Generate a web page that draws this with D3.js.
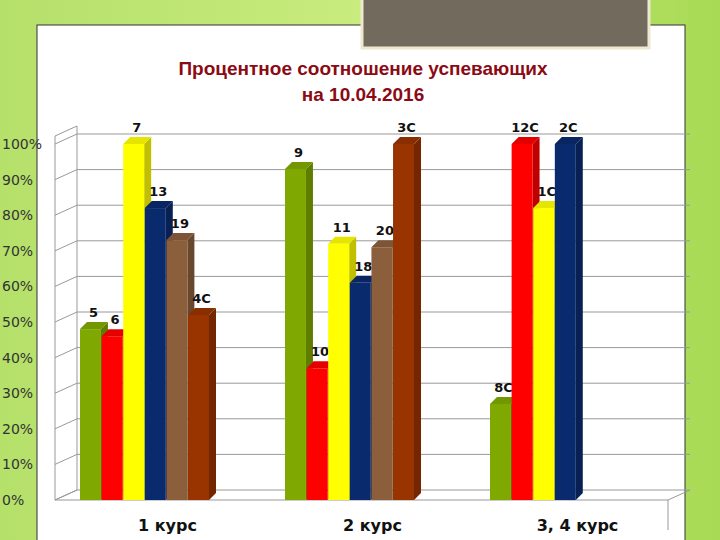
<!DOCTYPE html><html><head><meta charset="utf-8"><script src="https://cdn.jsdelivr.net/npm/d3@7"></script>
<style>body{margin:0}svg{display:block}</style></head><body><svg id="c" width="720" height="540"></svg><script>
const categories=["1 курс","2 курс","3, 4 курс"];
const groupLabels=[["5","6","7","13","19","4C"],["9","10","11","18","20","3C"],["8C","12C","1C","2C"]];
const groupValues=[[48,46,100,82,73,52],[93,37,72,61,71,100],[27,100,82,100]];
const groupColors=[["#7fa800","#ff0000","#ffff00","#0a2a6e","#8b5e3c","#993300"],["#7fa800","#ff0000","#ffff00","#0a2a6e","#8b5e3c","#993300"],["#7fa800","#ff0000","#ffff00","#0a2a6e"]];
const yTicks=[0,10,20,30,40,50,60,70,80,90,100];
const svg=d3.select("#c");
const defs=svg.append("defs");
const g=defs.append("linearGradient").attr("id","bg");
g.append("stop").attr("offset","0").attr("stop-color","#b5e06a");
g.append("stop").attr("offset","0.5").attr("stop-color","#c8ec7e");
g.append("stop").attr("offset","1").attr("stop-color","#a8da55");
svg.append("rect").attr("width",720).attr("height",540).attr("fill","url(#bg)");
svg.append("rect").attr("x",37).attr("y",25).attr("width",648).attr("height",520).attr("fill","#fff").attr("stroke","#333");
svg.append("rect").attr("x",362).attr("y",-2).attr("width",287).attr("height",50).attr("fill","#726a5c").attr("stroke","#eee8d0").attr("stroke-width",3);
svg.append("text").attr("x",363).attr("y",75).attr("text-anchor","middle").attr("font-family","Liberation Sans, Arial").attr("font-weight","bold").attr("font-size",19).attr("fill","#8b0a14").text("Процентное соотношение успевающих");
svg.append("text").attr("x",363).attr("y",101).attr("text-anchor","middle").attr("font-family","Liberation Sans, Arial").attr("font-weight","bold").attr("font-size",19).attr("fill","#8b0a14").text("на 10.04.2016");
const y=d3.scaleLinear().domain([0,100]).range([500,144]);
const dx=22,dy=-10;
svg.append("path").attr("d",`M55,${y(0)}L${55+dx},${y(0)+dy}L${55+dx},${y(100)+dy-8}L55,${y(100)-8}Z`).attr("fill","#fff").attr("stroke","#999");
yTicks.forEach(t=>{
 svg.append("path").attr("d",`M55,${y(t)}L${55+dx},${y(t)+dy}L690,${y(t)+dy}`).attr("fill","none").attr("stroke","#999");
 svg.append("text").attr("x",2).attr("y",y(t)+5).attr("font-family","DejaVu Sans").attr("font-size",14).attr("fill","#333").text(t+"%");
});
svg.append("path").attr("d",`M55,${y(0)}L668,${y(0)}L690,${y(0)+dy}`).attr("fill","none").attr("stroke","#999");
svg.append("line").attr("x1",668).attr("x2",668).attr("y1",y(0)).attr("y2",y(0)+30).attr("stroke","#999");
const x0=d3.scaleBand().domain(categories).range([70,685]);
const xi=d3.scaleBand().domain(d3.range(6)).range([0,129]).paddingInner(0.03);
const bw=xi.bandwidth(),d3x=7,d3y=-7;
categories.forEach((c,gi)=>{
 groupValues[gi].forEach((v,i)=>{
  const x=x0(c)+10+xi(i),col=groupColors[gi][i],top=y(v);
  const gg=svg.append("g");
  gg.append("path").attr("d",`M${x+bw},${top}L${x+bw+d3x},${top+d3y}L${x+bw+d3x},${y(0)+d3y}L${x+bw},${y(0)}Z`).attr("fill",d3.color(col).darker(0.8));
  gg.append("path").attr("d",`M${x},${top}L${x+d3x},${top+d3y}L${x+bw+d3x},${top+d3y}L${x+bw},${top}Z`).attr("fill",d3.color(col).darker(0.3));
  gg.append("rect").attr("x",x).attr("y",top).attr("width",bw).attr("height",y(0)-top).attr("fill",col);
  svg.append("text").attr("x",x+bw/2+3).attr("y",top-12).attr("text-anchor","middle").attr("font-family","DejaVu Sans").attr("font-weight","bold").attr("font-size",13).attr("fill","#111").text(groupLabels[gi][i]);
 });
 svg.append("text").attr("x",x0(c)+x0.bandwidth()/2-5).attr("y",531).attr("text-anchor","middle").attr("font-family","DejaVu Sans").attr("font-weight","bold").attr("font-size",16).attr("fill","#111").text(c);
});
</script></body></html>
